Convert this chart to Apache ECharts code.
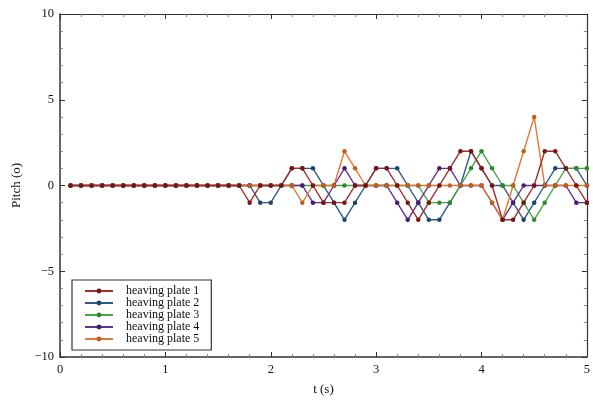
<!DOCTYPE html>
<html>
<head>
<meta charset="utf-8">
<script src="https://cdn.jsdelivr.net/npm/echarts@6/dist/echarts.min.js"></script>
<style>
  html, body { margin: 0; padding: 0; background: #fff; }
  #pitch { width: 593px; height: 401px; }
</style>
</head>
<body>
<div id="pitch"></div>
<script>
// time stamps (s)
var times = [0.1, 0.2, 0.3, 0.4, 0.5, 0.6, 0.7, 0.8, 0.9, 1.0,
             1.1, 1.2, 1.3, 1.4, 1.5, 1.6, 1.7, 1.8, 1.9, 2.0,
             2.1, 2.2, 2.3, 2.4, 2.5, 2.6, 2.7, 2.8, 2.9, 3.0,
             3.1, 3.2, 3.3, 3.4, 3.5, 3.6, 3.7, 3.8, 3.9, 4.0,
             4.1, 4.2, 4.3, 4.4, 4.5, 4.6, 4.7, 4.8, 4.9, 5.0];

var plate1 = [0, 0, 0, 0, 0, 0, 0, 0, 0, 0, 0, 0, 0, 0, 0, 0, 0,
              -1, 0, 0, 0, 1, 1, 0, -1, -1, -1,
              0, 0, 1, 1, 0, -1, -2, -1, 0, 1,
              2, 2, 1, 0, -2, -2, -1, 0, 2, 2,
              1, 0, -1];
var plate2 = [0, 0, 0, 0, 0, 0, 0, 0, 0, 0, 0, 0, 0, 0, 0, 0, 0,
              0, -1, -1, 0, 1, 1, 1, 0, -1, -2,
              -1, 0, 1, 1, 1, 0, -1, -2, -2, -1,
              0, 2, 1, 0, 0, -1, -2, -1, 0, 1,
              1, 1, 0];
var plate3 = [0, 0, 0, 0, 0, 0, 0, 0, 0, 0, 0, 0, 0, 0, 0, 0, 0,
              0, 0, 0, 0, 0, 0, 0, 0, 0, 0,
              0, 0, 0, 0, 0, 0, 0, -1, -1, -1,
              0, 1, 2, 1, 0, 0, -1, -2, -1, 0,
              1, 1, 1];
var plate4 = [0, 0, 0, 0, 0, 0, 0, 0, 0, 0, 0, 0, 0, 0, 0, 0, 0,
              0, 0, 0, 0, 0, 0, -1, -1, 0, 1,
              0, 0, 0, 0, -1, -2, -1, 0, 1, 1,
              0, 0, 0, -1, -2, -1, 0, 0, 0, 0,
              0, -1, -1];
var plate5 = [0, 0, 0, 0, 0, 0, 0, 0, 0, 0, 0, 0, 0, 0, 0, 0, 0,
              0, 0, 0, 0, 0, -1, 0, 0, 0, 2,
              1, 0, 0, 0, 0, 0, 0, 0, 0, 0,
              0, 0, 0, -1, -2, 0, 2, 4, 0, 0,
              0, 0, 0];

var names = ['heaving plate 1', 'heaving plate 2', 'heaving plate 3', 'heaving plate 4', 'heaving plate 5'];
var lineColors = ['#a03030', '#2e5a88', '#4aa54a', '#633090', '#dc7a34'];
var dotColors = ['#7a1414', '#1d4470', '#2f8a2f', '#4a1a72', '#c0601c'];
var allData = [plate1, plate2, plate3, plate4, plate5];

var serif = 'Liberation Serif';
var axisCol = '#333';

function pairs(vals) {
    return times.map(function (t, i) { return [t, vals[i]]; });
}

var series = allData.map(function (vals, k) {
    return {
        name: names[k],
        type: 'line',
        data: pairs(vals),
        symbol: 'circle',
        symbolSize: 4.5,
        z: k === 0 ? 4 : 3,
        lineStyle: { color: lineColors[k], width: 1.4 },
        itemStyle: { color: dotColors[k], borderWidth: 0 },
        emphasis: { disabled: true },
        animation: false
    };
});

var chart = echarts.init(document.getElementById('pitch'));
chart.setOption({
    backgroundColor: '#fff',
    textStyle: { fontFamily: serif },
    grid: { left: 60, right: 3, top: 14, bottom: 38, show: false },
    legend: {
        data: names,
        orient: 'vertical',
        left: 72,
        top: 280,
        itemWidth: 28,
        itemHeight: 6,
        itemGap: 0,
        padding: [5, 12, 5, 12],
        borderColor: '#333',
        borderWidth: 1.2,
        textStyle: {
            fontFamily: serif, fontSize: 12, color: '#111',
            lineHeight: 12, padding: [0, 0, 0, 8]
        }
    },
    xAxis: [{
        type: 'value',
        min: 0, max: 5, interval: 1,
        name: 't (s)',
        nameLocation: 'middle',
        nameGap: 26,
        nameTextStyle: { fontFamily: serif, fontSize: 13, color: '#111' },
        axisLine: { onZero: false, lineStyle: { color: axisCol, width: 1.5 } },
        axisTick: { inside: true, length: 5, lineStyle: { color: axisCol } },
        minorTick: { show: true, splitNumber: 5, length: 3, lineStyle: { color: '#888' } },
        axisLabel: { fontFamily: serif, fontSize: 12.5, color: '#111', margin: 6 },
        splitLine: { show: false }
    }, {
        type: 'value',
        position: 'top',
        min: 0, max: 5, interval: 1,
        axisLine: { onZero: false, lineStyle: { color: axisCol, width: 1.2 } },
        axisTick: { inside: true, length: 5, lineStyle: { color: axisCol } },
        minorTick: { show: true, splitNumber: 5, length: 3, lineStyle: { color: '#888' } },
        axisLabel: { show: false },
        splitLine: { show: false }
    }],
    yAxis: [{
        type: 'value',
        min: -10, max: 10, interval: 5,
        name: 'Pitch (o)',
        nameLocation: 'middle',
        nameGap: 28,
        nameRotate: 90,
        nameTextStyle: { fontFamily: serif, fontSize: 13, color: '#111' },
        axisLine: { onZero: false, lineStyle: { color: axisCol, width: 1.5 } },
        axisTick: { inside: true, length: 5, lineStyle: { color: axisCol } },
        minorTick: { show: true, splitNumber: 5, length: 3, lineStyle: { color: '#888' } },
        axisLabel: {
            fontFamily: serif, fontSize: 12.5, color: '#111', margin: 6,
            formatter: function (v) { return v < 0 ? '\u2212' + Math.abs(v) : String(v); }
        },
        splitLine: { show: false }
    }, {
        type: 'value',
        position: 'right',
        min: -10, max: 10, interval: 5,
        axisLine: { onZero: false, lineStyle: { color: axisCol, width: 1.2 } },
        axisTick: { inside: true, length: 5, lineStyle: { color: axisCol } },
        minorTick: { show: true, splitNumber: 5, length: 3, lineStyle: { color: '#888' } },
        axisLabel: { show: false },
        splitLine: { show: false }
    }],
    series: series
});
window.addEventListener('resize', function () {
    chart.resize();
});
</script>
</body>
</html>
